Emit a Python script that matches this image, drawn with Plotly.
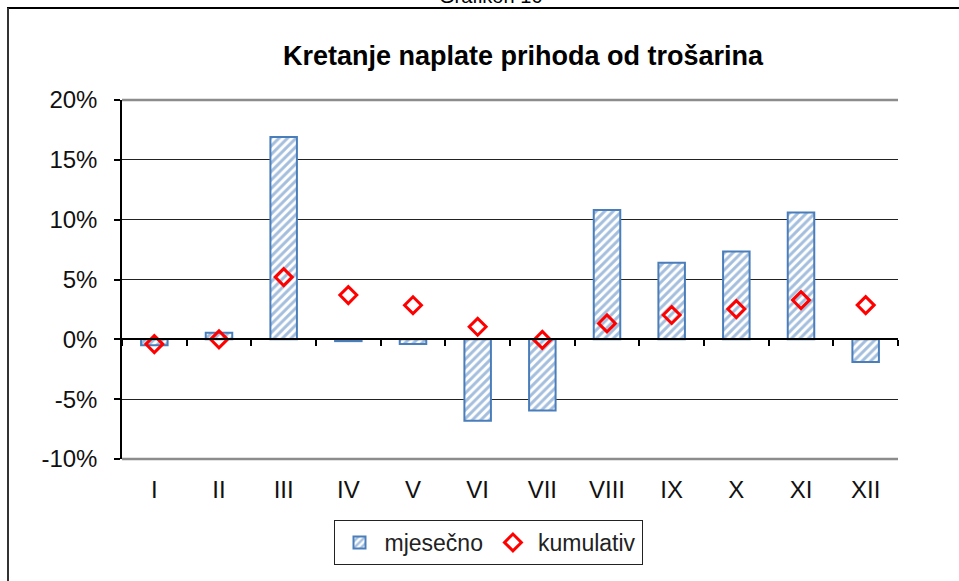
import plotly.graph_objects as go

months = ["I", "II", "III", "IV", "V", "VI", "VII", "VIII", "IX", "X", "XI", "XII"]
mjesecno = [-0.5, 0.55, 16.9, -0.15, -0.4, -6.8, -5.95, 10.8, 6.4, 7.35, 10.6, -1.9]
kumulativ = [-0.4, 0.0, 5.2, 3.7, 2.85, 1.05, -0.05, 1.33, 2.03, 2.53, 3.28, 2.86]
y_ticks = [-10, -5, 0, 5, 10, 15, 20]
y_tick_labels = ["-10%", "-5%", "0%", "5%", "10%", "15%", "20%"]

W, H = 959, 581
L, R, T, B = 122, 61, 100, 122
pw, ph = W - L - R, H - T - B

def px_x(px):
    return (px - L) / pw

def px_y(py):
    return (H - B - py) / ph

blue = "#4A7EBB"
FONT = "Liberation Sans, Arial, sans-serif"
xr = [-0.5, len(months) - 0.5]

fig = go.Figure()
fig.add_trace(go.Bar(
    x=months, y=mjesecno, name="mjesečno", width=0.41,
    marker=dict(color="white", line=dict(color=blue, width=2),
                pattern=dict(shape="/", fgcolor=blue, bgcolor="white", size=6, solidity=0.5)),
))
fig.add_trace(go.Scatter(
    x=months, y=kumulativ, name="kumulativ", mode="markers",
    marker=dict(symbol="diamond-open", size=13, color="red", line=dict(color="red", width=3)),
))
# invisible helper trace for the zero-line axis with ticks
fig.add_trace(go.Scatter(
    x=months, y=kumulativ, xaxis="x2", mode="markers", opacity=0,
    showlegend=False, hoverinfo="skip", marker=dict(size=1),
))

fig.update_layout(
    width=W, height=H,
    margin=dict(l=L, r=R, t=T, b=B),
    paper_bgcolor="white", plot_bgcolor="white",
    font=dict(family=FONT, color="black", size=20),
    showlegend=True,
    legend=dict(orientation="h", x=px_x(488), xanchor="center", y=px_y(520), yanchor="top",
                bordercolor="#222", borderwidth=1,
                font=dict(family=FONT, size=23, color="#222"),
                itemwidth=40, tracegroupgap=0),
    xaxis=dict(type="category", categoryorder="array", categoryarray=months, range=xr,
               showline=False, ticks="", showgrid=False, zeroline=False,
               tickfont=dict(size=24, color="#111"), ticklabelstandoff=14),
    xaxis2=dict(type="category", categoryorder="array", categoryarray=months, range=xr,
                overlaying="x", anchor="free", position=1/3,
                showline=True, linecolor="black", linewidth=1.5,
                ticks="outside", tickson="boundaries", ticklen=6, tickcolor="black", tickwidth=1.5,
                showticklabels=False, showgrid=False, zeroline=False),
    yaxis=dict(range=[-10, 20], tickvals=y_ticks, ticktext=y_tick_labels,
               showgrid=True, gridcolor="#222", gridwidth=1,
               zeroline=False, showline=True, linecolor="black", linewidth=1.5,
               ticks="outside", ticklen=6, tickcolor="black", tickwidth=1.5,
               tickfont=dict(size=24, color="#111"), ticklabelstandoff=12),
    bargap=0.59,
    title=dict(text="<b>Kretanje naplate prihoda od trošarina</b>",
               x=px_x(523), xanchor="center", xref="paper",
               y=1 - 56 / H, yanchor="middle", yref="container",
               font=dict(family=FONT, size=27, color="black")),
    shapes=[
        dict(type="line", xref="paper", yref="paper", x0=0, x1=1, y0=1, y1=1,
             line=dict(color="#8c8c8c", width=2.5)),
        dict(type="line", xref="paper", yref="paper", x0=0, x1=1, y0=0, y1=0,
             line=dict(color="#8c8c8c", width=2.5)),
        dict(type="line", xref="paper", yref="paper", x0=px_x(7), x1=px_x(970), y0=px_y(8), y1=px_y(8),
             line=dict(color="black", width=2)),
        dict(type="line", xref="paper", yref="paper", x0=px_x(8), x1=px_x(8), y0=px_y(8), y1=px_y(600),
             line=dict(color="#333", width=2)),
    ],
    annotations=[
        dict(text="Grafikon 16", xref="paper", yref="paper", x=px_x(490), y=px_y(-4),
             xanchor="center", yanchor="middle", showarrow=False,
             font=dict(family=FONT, size=20, color="black")),
    ],
)

fig.write_html("out.html", config={"displayModeBar": False},
               post_script="document.body.style.margin='0';")
